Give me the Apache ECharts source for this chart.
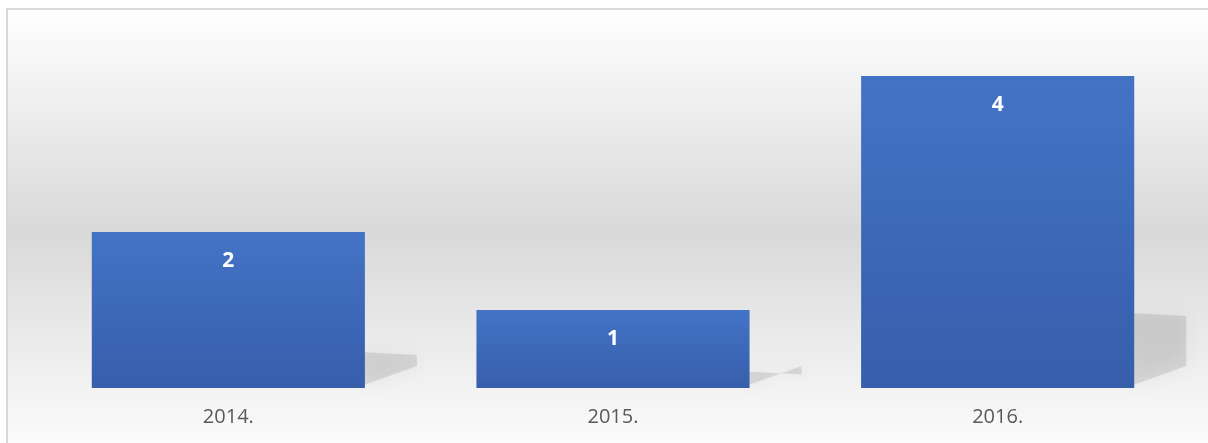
<!DOCTYPE html>
<html><head><meta charset="utf-8">
<script src="https://cdn.jsdelivr.net/npm/echarts@6/dist/echarts.min.js"></script>
<style>html,body{margin:0;padding:0;background:#fff}#c{width:1208px;height:443px}</style>
</head><body><div id="c"></div>
<script>
const categories = ['2014.', '2015.', '2016.'];
const values = [2, 1, 4];

const chart = echarts.init(document.getElementById('c'));
const bg = new echarts.graphic.LinearGradient(0, 0, 0, 1, [
  {offset: 0, color: '#ffffff'},
  {offset: 0.5, color: '#d9d9d9'},
  {offset: 1, color: '#fdfdfd'}
]);
chart.setOption({
  animation: false,
  graphic: [
    {type: 'rect', z: -100, silent: true, shape: {x: 7, y: 9, width: 1210, height: 445},
     style: {fill: bg, stroke: '#d9d9d9', lineWidth: 2}}
  ],
  grid: {left: 36, right: 18, top: 37, bottom: 55, containLabel: false},
  xAxis: {
    type: 'category', data: categories,
    axisLine: {show: false}, axisTick: {show: false},
    axisLabel: {color: '#595959', fontSize: 20, fontFamily: 'Open Sans, Liberation Sans, sans-serif', margin: 19}
  },
  yAxis: {type: 'value', min: 0, max: 4.5, show: false, splitLine: {show: false}},
  series: [
    {
      type: 'custom', z: 1, silent: true,
      data: values.map((v, i) => [i, v]),
      renderItem: function (params, api) {
        const base = api.coord([api.value(0), 0]);
        const top = api.coord([api.value(0), api.value(1)]);
        const bw = api.size([1, 0])[0] * 0.71;
        const xr = base[0] + bw / 2;
        const h = (base[1] - top[1]) * 0.25;
        const y0 = base[1];
        return {
          type: 'polygon',
          shape: {points: [[xr - 4, y0 - h + 3], [xr + 52, y0 - h + 6], [xr + 52, y0 - 22], [xr - 4, y0 - 2]]},
          style: {fill: 'rgba(90,90,90,0.16)', shadowBlur: 18, shadowColor: 'rgba(80,80,80,0.45)'}
        };
      }
    },
    {
      type: 'bar', z: 2, data: values, barWidth: '71%',
      itemStyle: {
        color: new echarts.graphic.LinearGradient(0, 0, 0, 1, [
          {offset: 0, color: '#4473C6'},
          {offset: 1, color: '#365EAB'}
        ])
      },
      label: {
        show: true, position: 'insideTop', distance: 19, color: '#ffffff',
        fontSize: 21, fontWeight: 'bold', fontFamily: 'Open Sans, Liberation Sans, sans-serif'
      }
    }
  ]
});
</script>
</body></html>
